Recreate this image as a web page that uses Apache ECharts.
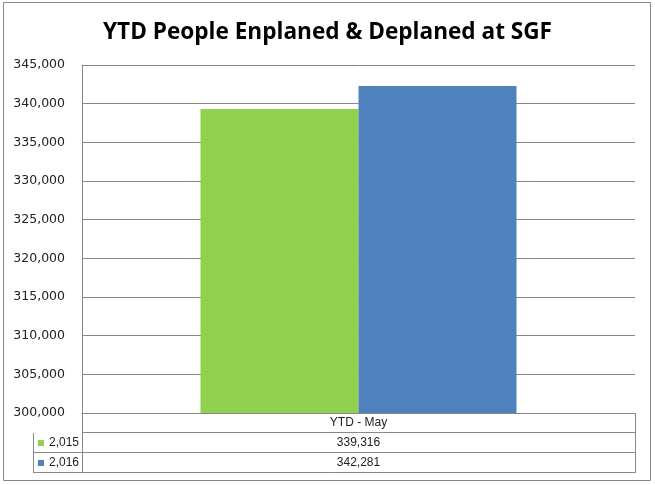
<!DOCTYPE html>
<html><head><meta charset="utf-8">
<script src="https://cdn.jsdelivr.net/npm/echarts@6/dist/echarts.min.js"></script>
<style>html,body{margin:0;padding:0;background:#fff}#c{width:655px;height:485px}</style>
</head><body><div id="c"></div>
<script>
const titleText = 'YTD People Enplaned & Deplaned at SGF';
const categories = ['YTD - May'];
const seriesNames = ['2,015', '2,016'];
const values2015 = [339316];
const values2016 = [342281];
const colors = ['#92d050', '#4f81bd'];

const fmt = v => v.toLocaleString('en-US');
const chart = echarts.init(document.getElementById('c'), null, {renderer: 'canvas'});

const G = {left: 82, top: 65, right: 20, bottom: 72};
const tableLeft = 33, rowH = 20;
const lineCol = '#888888';
const plotRight = 655 - G.right;
const plotBottom = 485 - G.bottom;
const allVals = [values2015, values2016];

const graphics = [
  {type: 'rect', shape: {x: 3.5, y: 2.5, width: 647, height: 478}, style: {fill: 'none', stroke: '#888', lineWidth: 1}, silent: true, z: 0},
];
const tl = (x1, y1, x2, y2) => graphics.push({type: 'line', shape: {x1, y1, x2, y2}, style: {stroke: lineCol, lineWidth: 1}, silent: true, z: 10});
tl(G.left + 0.5, plotBottom, G.left + 0.5, plotBottom + 3 * rowH);
tl(plotRight + 0.5, plotBottom, plotRight + 0.5, plotBottom + 3 * rowH);
tl(tableLeft + 0.5, plotBottom + rowH, tableLeft + 0.5, plotBottom + 3 * rowH);
for (let i = 1; i <= 3; i++) {
  const y = plotBottom + i * rowH - 0.5;
  tl(i === 1 ? G.left : tableLeft, y, plotRight + 0.5, y);
}
const cx = (G.left + plotRight) / 2;
const tf = 'Liberation Sans Narrow, Liberation Sans';
graphics.push({type: 'text', x: cx, y: plotBottom + rowH / 2, style: {text: categories[0], fontFamily: tf, fontSize: 12, fill: '#222', align: 'center', verticalAlign: 'middle'}, z: 11});
seriesNames.forEach((n, i) => {
  const yMid = plotBottom + (i + 1.5) * rowH;
  graphics.push({type: 'rect', shape: {x: tableLeft + 5, y: yMid - 3, width: 6, height: 6}, style: {fill: colors[i]}, z: 11});
  graphics.push({type: 'text', x: tableLeft + 16, y: yMid, style: {text: n, fontFamily: tf, fontSize: 12, fill: '#222', align: 'left', verticalAlign: 'middle'}, z: 11});
  graphics.push({type: 'text', x: cx, y: yMid, style: {text: fmt(allVals[i][0]), fontFamily: tf, fontSize: 12, fill: '#222', align: 'center', verticalAlign: 'middle'}, z: 11});
});

chart.setOption({
  animation: false,
  title: {text: titleText, left: 'center', top: 16, textStyle: {fontFamily: 'Open Sans', fontWeight: 'bold', fontSize: 22.6, color: '#000'}},
  grid: {left: G.left, top: G.top, right: G.right, bottom: G.bottom, containLabel: false},
  xAxis: {type: 'category', data: categories, axisLine: {show: true, lineStyle: {color: lineCol}}, axisTick: {show: false}, axisLabel: {show: false}},
  yAxis: {type: 'value', min: 300000, max: 345000, interval: 5000,
    axisLine: {show: true, lineStyle: {color: lineCol}}, axisTick: {show: false},
    splitLine: {lineStyle: {color: lineCol, width: 1}},
    axisLabel: {formatter: v => fmt(v), fontFamily: 'DejaVu Sans', fontSize: 12.5, color: '#222', margin: 17}},
  series: [
    {name: seriesNames[0], type: 'bar', data: values2015, barWidth: 158, barGap: '0%', itemStyle: {color: colors[0]}},
    {name: seriesNames[1], type: 'bar', data: values2016, barWidth: 158, barGap: '0%', itemStyle: {color: colors[1]}}
  ],
  graphic: graphics
});
</script></body></html>
